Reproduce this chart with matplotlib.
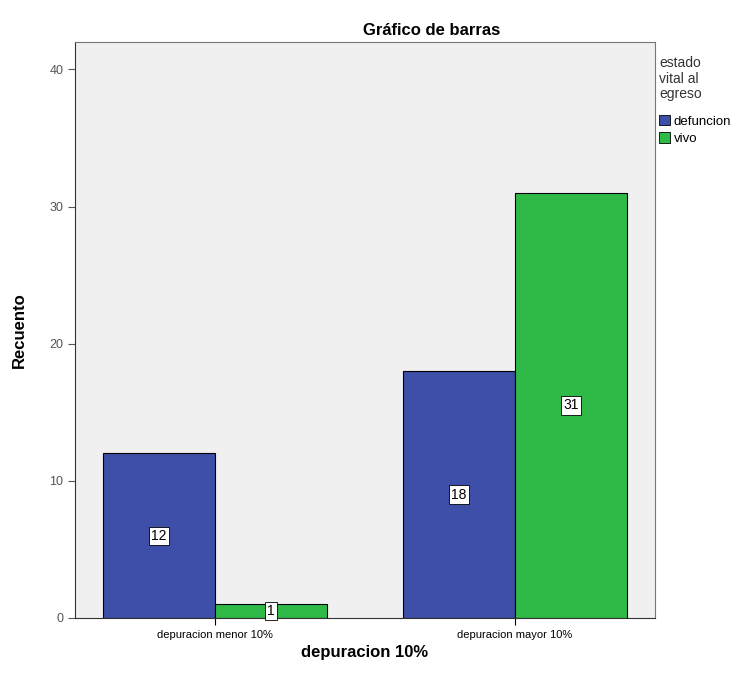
import numpy as np
import matplotlib.pyplot as plt
from matplotlib.patches import Patch

# datos
categorias = ['depuracion menor 10%', 'depuracion mayor 10%']
defuncion = [12, 18]
vivo = [1, 31]
series = ['defuncion', 'vivo']
colores = ['#3d4fa8', '#2fba48']

plt.rcParams['font.family'] = ['Liberation Sans', 'DejaVu Sans']

fig = plt.figure(figsize=(7.47, 6.84), dpi=100)
ax = fig.add_axes([75/747, 66/684, 580/747, 576/684])
ax.set_facecolor('#f0f0f0')

x = np.arange(len(categorias))
w = 0.373
b1 = ax.bar(x - w/2, defuncion, w, color=colores[0], edgecolor='black', linewidth=0.8)
b2 = ax.bar(x + w/2, vivo, w, color=colores[1], edgecolor='black', linewidth=0.8)

##etiquetas en el centro de cada barra
for barras in (b1, b2):
    for r in barras:
        h = r.get_height()
        ax.text(r.get_x() + r.get_width()/2, h/2, str(int(h)), ha='center', va='center',
                fontsize=10, bbox=dict(boxstyle='square,pad=0.15', fc='white', ec='black', lw=0.6))

ax.set_xlim(-0.467, 1.467)
ax.set_ylim(0, 42)
ax.set_yticks([0, 10, 20, 30, 40])
ax.set_xticks(x)
ax.set_xticklabels(categorias, fontsize=8)
ax.tick_params(axis='y', labelsize=9, colors='#555555', length=5)
ax.tick_params(axis='x', length=5, labelsize=8)
for s in ['top', 'right']:
    ax.spines[s].set_color('#777777')
ax.spines['left'].set_color('#333333')
ax.spines['bottom'].set_color('#333333')

ax.set_xlabel('depuracion 10%', fontsize=12, fontweight='bold')
ax.set_ylabel('Recuento', fontsize=12, fontweight='bold', labelpad=16)
ax.set_title('Gráfico de barras', fontsize=12, fontweight='bold', x=0.615, pad=5)

handles = [Patch(facecolor=c, edgecolor='black', linewidth=0.6) for c in colores]
leg = fig.legend(handles, series, loc='upper left', bbox_to_anchor=(659/747, 1 - 56/684),
                 title='estado\nvital al\negreso', frameon=False, fontsize=9.5,
                 title_fontsize=10, handlelength=0.8, handleheight=0.8,
                 handletextpad=0.3, borderaxespad=0, labelspacing=0.35, borderpad=0)
leg._legend_box.align = 'left'
leg.get_title().set_linespacing(1.15)
leg.get_title().set_color('#333333')
leg._legend_box.sep = 10

fig.savefig('out.png', dpi=100)
